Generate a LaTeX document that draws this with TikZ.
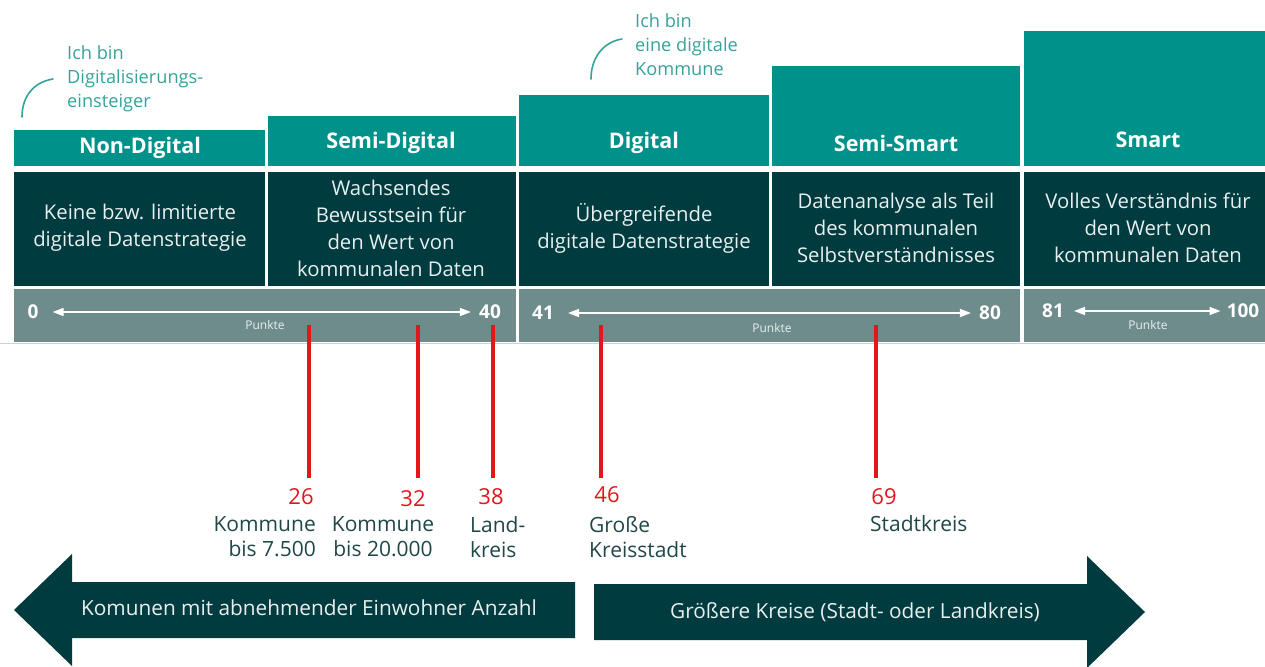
\documentclass[tikz,border=0pt]{standalone}
\usepackage{fontspec}
\setmainfont{Open Sans}
\usetikzlibrary{arrows.meta}
\definecolor{tealA}{HTML}{00918A}
\definecolor{darkA}{HTML}{003B40}
\definecolor{greyA}{HTML}{6E8C8C}
\definecolor{redA}{HTML}{E3161C}
\definecolor{annoA}{HTML}{35A39B}
\definecolor{lblA}{HTML}{1F4747}
\definecolor{txtA}{HTML}{E8F0EF}
\begin{document}
\begin{tikzpicture}[x=1pt,y=-1pt,
  cellbox/.style={draw=none, inner sep=0, outer sep=0, anchor=north west},
  hdrtext/.style={text=white, font=\fontsize{21.5}{24}\bfseries\selectfont, inner sep=0},
  desctext/.style={text=txtA, font=\fontsize{20.3}{27}\selectfont, align=center, inner sep=0},
  numtext/.style={text=white, font=\fontsize{19}{22}\bfseries\selectfont, inner sep=0},
  punkte/.style={text=txtA, font=\fontsize{12}{13}\selectfont, inner sep=0},
  wa/.style={white, line width=1.6pt, {Triangle[length=11pt,width=8pt]}-{Triangle[length=11pt,width=8pt]}},
  redline/.style={redA, line width=4pt},
  rednum/.style={text=redA, font=\fontsize{22}{26}\selectfont, inner sep=0},
  lbl/.style={text=lblA, font=\fontsize{21}{25}\selectfont, inner sep=0},
  anno/.style={text=annoA, font=\fontsize{18.2}{24}\selectfont, align=left, inner sep=0, anchor=west},
  annoarc/.style={annoA, line width=1.6pt, line cap=round},
  bigarrow/.style={fill=darkA, draw=none},
  arrowtext/.style={text=txtA, font=\fontsize{20.8}{25}\selectfont, inner sep=0}
]
\useasboundingbox (0,0) rectangle (1265,666);
\clip (0,0) rectangle (1265,666);

% faint base line
\draw[black!18, line width=1pt] (0,343) -- (1265,343);

% header boxes
\node[cellbox, fill=tealA, minimum width=251, minimum height=36] (h1) at (14,130) {};
\node[cellbox, fill=tealA, minimum width=248, minimum height=50] (h2) at (268,116) {};
\node[cellbox, fill=tealA, minimum width=250, minimum height=71] (h3) at (519,95) {};
\node[cellbox, fill=tealA, minimum width=248, minimum height=100] (h4) at (772,66) {};
\node[cellbox, fill=tealA, minimum width=241, minimum height=135] (h5) at (1024,31) {};

\node[hdrtext] (t1) at (140,148) {Non-Digital};
\node[hdrtext] (t2) at (391,143) {Semi-Digital};
\node[hdrtext] (t3) at (644,143) {Digital};
\node[hdrtext] (t4) at (896,143) {Semi-Smart};
\node[hdrtext] (t5) at (1148,140) {Smart};

% description boxes
\node[cellbox, fill=darkA, minimum width=251, minimum height=114] (d1) at (14,172) {};
\node[cellbox, fill=darkA, minimum width=248, minimum height=114] (d2) at (268,172) {};
\node[cellbox, fill=darkA, minimum width=250, minimum height=114] (d3) at (519,172) {};
\node[cellbox, fill=darkA, minimum width=248, minimum height=114] (d4) at (772,172) {};
\node[cellbox, fill=darkA, minimum width=241, minimum height=114] (d5) at (1024,172) {};

\node[desctext] (e1) at (140,228) {Keine bzw. limitierte\\digitale Datenstrategie};
\node[desctext] (e2) at (391,228) {Wachsendes\\Bewusstsein für\\den Wert von\\kommunalen Daten};
\node[desctext] (e3) at (644,228) {Übergreifende\\digitale Datenstrategie};
\node[desctext] (e4) at (896,228) {Datenanalyse als Teil\\des kommunalen\\Selbstverständnisses};
\node[desctext] (e5) at (1148,228) {Volles Verständnis für\\den Wert von\\kommunalen Daten};

% grey point boxes
\node[cellbox, fill=greyA, minimum width=502, minimum height=53] (g1) at (14,289) {};
\node[cellbox, fill=greyA, minimum width=501, minimum height=53] (g2) at (519,289) {};
\node[cellbox, fill=greyA, minimum width=241, minimum height=53] (g3) at (1024,289) {};

\node[numtext] (n0) at (33,312) {0};
\node[numtext] (n40) at (490,312) {40};
\node[numtext] (n41) at (543,313) {41};
\node[numtext] (n80) at (990,313) {80};
\node[numtext] (n81) at (1053,311) {81};
\node[numtext] (n100) at (1243,311) {100};

\draw[wa] ([xshift=14pt]n0.east) -- ([xshift=-8pt]n40.west);
\draw[wa] ([xshift=14pt]n41.east) -- ([xshift=-8pt]n80.west);
\draw[wa] ([xshift=10pt]n81.east) -- ([xshift=-6pt]n100.west);

\node[punkte] (p1) at (265,325) {Punkte};
\node[punkte] (p2) at (772,328) {Punkte};
\node[punkte] (p3) at (1148,325) {Punkte};

% red markers
\coordinate (a26) at (309,325); \coordinate (b26) at (309,478);
\coordinate (a32) at (418,325); \coordinate (b32) at (418,478);
\coordinate (a38) at (493,325); \coordinate (b38) at (493,478);
\coordinate (a46) at (601,325); \coordinate (b46) at (601,478);
\coordinate (a69) at (876,325); \coordinate (b69) at (876,478);
\draw[redline] (a26) -- (b26);
\draw[redline] (a32) -- (b32);
\draw[redline] (a38) -- (b38);
\draw[redline] (a46) -- (b46);
\draw[redline] (a69) -- (b69);

\node[rednum] (r26) at (301,497) {26};
\node[rednum] (r32) at (413,499) {32};
\node[rednum] (r38) at (491,497) {38};
\node[rednum] (r46) at (607,495) {46};
\node[rednum] (r69) at (884,497) {69};

\node[lbl, align=right, anchor=east] (l26) at (316,537) {Kommune\\bis 7.500};
\node[lbl, align=center] (l32) at (383,537) {Kommune\\bis 20.000};
\node[lbl, align=left, anchor=west] (l38) at (470,537) {Land-\\kreis};
\node[lbl, align=left, anchor=west] (l46) at (589,537) {Große\\Kreisstadt};
\node[lbl, align=left, anchor=west] (l69) at (870,524) {Stadtkreis};

% annotations
\node[anno] (an1) at (67,79) {Ich bin\\Digitalisierungs-\\einsteiger};
\node[anno] (an2) at (635,45) {Ich bin\\eine digitale\\Kommune};
\draw[annoarc] (22,117) .. controls (22,96) and (34,82) .. (53,79);
\draw[annoarc] (591,79) .. controls (591,58) and (603,42) .. (622,39);

% big arrows
\fill[bigarrow] (575,582) -- (72,582) -- (72,554) -- (14,610) -- (72,666) -- (72,638) -- (575,638) -- cycle;
\fill[bigarrow] (594,584) -- (1087,584) -- (1087,556) -- (1145,612) -- (1087,668) -- (1087,640) -- (594,640) -- cycle;
\node[arrowtext] (at1) at (309,608) {Komunen mit abnehmender Einwohner Anzahl};
\node[arrowtext] (at2) at (855,612) {Größere Kreise (Stadt- oder Landkreis)};
\end{tikzpicture}
\end{document}
